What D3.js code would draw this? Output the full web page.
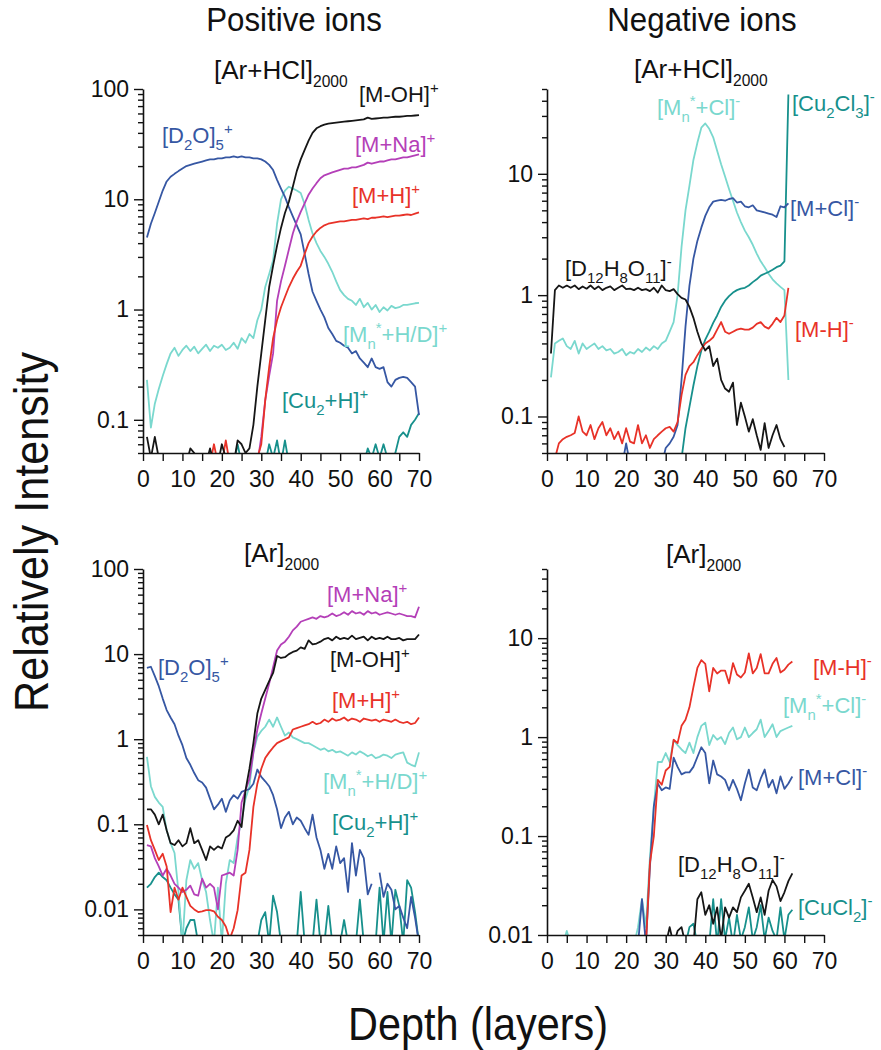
<!DOCTYPE html>
<html><head><meta charset="utf-8">
<script src="https://cdn.jsdelivr.net/npm/d3@7"></script>
<style>
body{margin:0;background:#fff;}
text{font-family:"Liberation Sans",Arial,Helvetica,sans-serif;}
</style></head><body>
<svg id="c" width="881" height="1050"></svg>
<script>
// ---------------- DATA ----------------
const depthTL = d3.range(1, 71);
const depthTR = d3.range(1, 62);
const depthBL = d3.range(1, 71);
const depthBR = d3.range(1, 63);
const xTickValues = [0, 5, 10, 15, 20, 25, 30, 35, 40, 45, 50, 55, 60, 65, 70];

// Top-left: [Ar+HCl]2000, positive ions
const tlD2O = [4.5,6.0,7.5,9.5,12,14.5,16,17,18,19, 20,20.5,21,21.5,22,22.5,23,23,23.5,23.5, 24,24,24.5,24,24.5,24,24,23.5,23.5,23, 22,20.5,18.4,15,12.5,10.5,8.5,7,5.8,4.8, 3.2,2.1,1.45,1.2,1.0,0.85,0.68,0.6,0.52,0.5, 0.47,0.45,0.4,0.42,0.36,0.33,0.3,0.36,0.3,0.29, 0.3,0.22,0.2,0.23,0.24,0.245,0.24,0.22,0.2,0.11];
const tlMOH = [0.07,0.045,0.07,0.045,0.04,0.04,0.04,0.04,0.04,0.04, 0.04,0.055,0.05,0.04,0.04,0.04,0.055,0.04,0.04,0.06, 0.045,0.04,0.04,0.065,0.06,0.05,0.055,0.09,0.2,0.4, 0.8,1.6,2.5,3.8,5.5,7.5,9.5,13,18,23, 28,34,40,44,46,47.5,48.5,49,49.5,50, 50.5,51,51.5,52,52.5,53,55,53.5,54,54.5, 55,55,55.5,56,56,56.5,57,57,57.5,58];
const tlMNa = [0.04,0.04,0.04,0.04,0.04,0.04,0.04,0.04,0.04,0.04, 0.04,0.04,0.04,0.04,0.04,0.04,0.04,0.04,0.04,0.04, 0.04,0.04,0.04,0.04,0.04,0.04,0.04,0.04,0.04,0.07, 0.15,0.25,0.4,1.2,1.8,2.5,3.5,4.9,6.3,7.7, 9.2,11,12.5,14,15.5,16.5,17,17.5,18,18.5, 19,19,19.5,19.5,20,20.5,21.5,21,21.5,22, 22,22.5,23,23,23.5,24,24,24.5,25,25.5];
const tlMH = [0.04,0.04,0.04,0.04,0.04,0.04,0.04,0.04,0.04,0.04, 0.04,0.04,0.04,0.04,0.04,0.04,0.04,0.06,0.04,0.04, 0.065,0.04,0.04,0.04,0.04,0.04,0.04,0.04,0.045,0.06, 0.15,0.3,0.55,0.8,1.05,1.3,1.6,1.9,2.2,2.5, 3.2,4.0,4.6,5.1,5.5,5.8,6.0,6.1,6.2,6.3, 6.3,6.4,6.5,6.5,6.6,6.7,6.6,6.8,6.8,6.9, 7.0,6.9,7.0,7.1,7.1,7.2,7.3,7.2,7.4,7.6];
const tlMn = [0.23,0.085,0.14,0.19,0.25,0.32,0.4,0.45,0.38,0.43, 0.47,0.42,0.46,0.4,0.44,0.48,0.42,0.47,0.45,0.48, 0.43,0.45,0.5,0.44,0.55,0.5,0.6,0.55,0.8,1.0, 1.6,2.1,2.8,6,10,12,13,12.5,12,11.4, 9,6.5,4.9,4,3.4,3.0,2.6,2.2,1.8,1.5, 1.35,1.25,1.2,1.1,1.25,1.05,1.15,1.0,1.1,0.95, 1.05,0.98,1.08,1.03,1.05,1.1,1.1,1.12,1.14,1.15];
const tlCu = [0.04,0.04,0.04,0.04,0.04,0.04,0.04,0.04,0.04,0.04, 0.04,0.04,0.04,0.04,0.04,0.04,0.04,0.04,0.04,0.04, 0.04,0.04,0.04,0.06,0.04,0.04,0.04,0.04,0.04,0.04, 0.04,0.06,0.045,0.065,0.04,0.065,0.04,0.04,0.04,0.04, 0.04,0.04,0.04,0.04,0.04,0.04,0.04,0.04,0.04,0.04, 0.04,0.04,0.04,0.04,0.04,0.04,0.055,0.045,0.06,0.045, 0.06,0.045,0.045,0.05,0.07,0.077,0.07,0.09,0.1,0.115];

// Top-right: [Ar+HCl]2000, negative ions
const trD12 = [0.33,1.1,1.2,1.15,1.2,1.15,1.2,1.12,1.18,1.13, 1.2,1.12,1.18,1.1,1.15,1.18,1.1,1.15,1.2,1.12, 1.13,1.1,1.15,1.1,1.12,1.08,1.15,1.05,1.2,1.1, 1.08,1.12,1.02,0.95,0.92,0.8,0.65,0.5,0.4,0.35, 0.38,0.26,0.3,0.2,0.17,0.16,0.19,0.085,0.13,0.1, 0.075,0.095,0.07,0.053,0.088,0.055,0.07,0.085,0.065,0.056, null];
const trMn = [0.21,0.4,0.42,0.44,0.38,0.36,0.42,0.33,0.4,0.36, 0.38,0.4,0.36,0.38,0.35,0.36,0.33,0.34,0.36,0.32, 0.34,0.33,0.36,0.34,0.37,0.35,0.38,0.36,0.4,0.42, 0.5,0.6,1.0,2.5,5,8,13,18,24,26, 23.5,20,15.5,12,9.5,7.5,6,4.8,4,3.4, 3.0,2.6,2.2,1.9,1.7,1.5,1.35,1.25,1.17,1.1, 0.2];
const trMCl = [0.04,0.04,0.04,0.04,0.04,0.04,0.04,0.04,0.04,0.04, 0.04,0.04,0.04,0.04,0.04,0.04,0.04,0.04,0.04,0.06, 0.04,0.04,0.04,0.04,0.04,0.04,0.04,0.04,0.04,0.055, 0.06,0.068,0.085,0.2,0.55,1.2,2.0,2.8,3.6,4.5, 5.3,5.9,6.0,6.1,6.0,6.2,6.3,5.8,5.9,5.4, 5.3,5.5,5.0,4.9,4.8,4.7,4.6,4.4,5.4,5.3, 5.7];
const trCu = [0.04,0.04,0.04,0.04,0.04,0.04,0.04,0.04,0.04,0.04, 0.04,0.04,0.04,0.04,0.04,0.04,0.04,0.04,0.04,0.04, 0.04,0.04,0.04,0.04,0.04,0.04,0.04,0.04,0.04,0.04, 0.04,0.04,0.04,0.045,0.08,0.12,0.18,0.26,0.35,0.43, 0.5,0.59,0.68,0.8,0.9,0.98,1.05,1.1,1.13,1.15, 1.2,1.28,1.35,1.45,1.5,1.55,1.62,1.7,1.75,1.9, 45];
const trMH = [0.04,0.045,0.06,0.065,0.068,0.07,0.073,0.1,0.075,0.07, 0.085,0.065,0.08,0.09,0.07,0.08,0.065,0.075,0.06,0.08, 0.062,0.06,0.085,0.06,0.07,0.055,0.065,0.07,0.075,0.08, 0.082,0.075,0.09,0.15,0.22,0.26,0.28,0.32,0.36,0.4, 0.42,0.45,0.52,0.6,0.5,0.48,0.5,0.52,0.53,0.52, 0.52,0.54,0.58,0.6,0.55,0.53,0.58,0.65,0.6,0.68, 1.15];

// Bottom-left: [Ar]2000, positive ions
const blD2O = [6.9,7.1,5.5,4.2,3.0,2.2,1.8,1.5,1.1,0.85, 0.6,0.5,0.4,0.33,0.31,0.27,0.2,0.15,0.17,0.2, 0.14,0.19,0.22,0.2,0.24,0.25,0.26,0.3,0.44,0.36, 0.32,0.28,0.22,0.15,0.09,0.12,0.14,0.1,0.12,0.11, 0.09,0.075,0.13,0.07,0.05,0.03,0.045,0.03,0.055,0.035, 0.04,0.016,0.06,0.025,0.05,0.04,0.015,0.02,null,0.027, 0.014,0.02,0.017,0.01,0.011,0.008,0.006,0.014,0.008,0.004];
const blMOH = [0.15,0.15,0.13,0.1,0.13,0.085,0.06,0.057,0.065,0.055, 0.06,0.09,0.06,0.065,0.05,0.038,0.055,0.05,0.055,0.052, 0.07,0.075,0.085,0.11,0.093,0.25,0.45,0.9,2.0,3.0, 3.8,4.8,6,9.5,9,9.2,10,10.6,11,12, 11.5,14.5,13,13.3,14,15,15.5,14.5,16,15, 15.5,15,16.5,15,15.5,16,14.5,16,15,15.5, 15,16,15,15,15.5,14.5,15,15,15,17];
const blMNa = [0.057,0.055,0.04,0.032,0.025,0.03,0.025,0.02,0.018,0.016, 0.017,0.019,0.015,0.0145,0.023,0.018,0.02,0.018,0.01,0.025, 0.026,0.027,0.025,0.05,0.18,0.25,0.34,0.7,1.3,2.0, 3.0,4.5,7,11,13,14,16,19,21,24, 25,26,27,26,28,27,28,30,28,29, 31,29,32,30,31,29,32,30,31,29, 30,31,30,29,30,29,28,28,27,36];
const blMH = [0.098,0.065,0.05,0.038,0.045,0.032,0.0093,0.018,0.013,0.018, 0.014,0.011,0.01,0.0093,0.0095,0.0098,0.0098,0.0095,0.0082,0.0075, 0.0063,0.0045,0.006,0.0098,0.025,0.027,0.05,0.16,0.3,0.45, 0.6,0.7,0.8,0.9,0.95,1.0,1.05,1.3,1.35,1.4, 1.45,1.5,1.6,1.5,1.55,1.7,1.6,1.75,1.65,1.7, 1.8,1.65,1.75,1.7,1.6,1.75,1.7,1.65,1.7,1.6, 1.7,1.65,1.6,1.7,1.6,1.55,1.6,1.5,1.55,1.8];
const blMn = [0.62,0.28,0.21,0.18,0.16,0.085,0.06,0.046,0.016,0.004, 0.022,0.038,0.03,0.035,0.022,0.016,0.0075,0.004,0.018,0.004, 0.02,0.038,0.035,0.07,0.11,0.2,0.28,0.7,1.07,1.25, 1.4,1.7,1.4,1.8,1.4,1.1,1.2,1.05,1.0,0.95, 0.9,0.9,0.85,0.8,0.75,0.78,0.72,0.75,0.7,0.72, 0.68,0.64,0.7,0.66,0.72,0.68,0.63,0.66,0.6,0.62, 0.66,0.64,0.6,0.66,0.68,0.7,0.53,0.5,0.48,0.7];
const blCu = [0.018,0.02,0.024,0.027,0.024,0.022,0.018,0.015,0.013,0.004, 0.006,0.0075,0.0075,0.004,0.004,0.004,0.004,0.004,0.004,0.004, 0.004,0.004,0.004,0.004,0.004,0.004,0.004,0.004,0.004,0.0075, 0.0093,0.004,0.0145,0.0093,0.004,0.004,0.004,0.004,0.004,0.016, 0.004,0.004,0.004,0.013,0.004,0.004,0.011,0.004,0.004,0.004, 0.0075,0.004,0.004,0.004,0.013,0.004,0.004,0.004,0.004,0.018, 0.004,0.016,0.004,0.017,0.011,0.004,0.022,0.018,0.0093,0.004];

// Bottom-right: [Ar]2000, negative ions
const brMH = [0.008,0.008,0.008,0.008,0.008,0.008,0.008,0.008,0.008,0.008, 0.008,0.008,0.008,0.008,0.008,0.008,0.008,0.008,0.008,0.008, 0.008,0.008,0.008,0.008,0.008,0.053,0.1,0.37,0.33,0.46, 0.5,0.94,0.87,1.3,1.5,2.0,3.2,5.0,6.0,5.5, 2.9,5.0,4.4,4.7,4.7,3.5,5.6,4.3,4.0,4.5, 7.0,4.4,5.0,6.9,4.4,4.4,5.5,6.3,4.5,4.8, 5.4,5.8];
const brMn = [0.008,0.008,0.008,0.008,0.011,0.008,0.008,0.008,0.008,0.008, 0.008,0.008,0.008,0.008,0.008,0.008,0.008,0.008,0.008,0.008, 0.008,0.008,0.012,0.023,0.012,0.06,0.2,0.56,0.56,0.69, 0.56,0.93,0.83,0.75,0.69,0.88,0.69,1.0,1.3,1.4, 0.83,1.05,0.94,1.0,0.85,1.1,1.25,0.95,1.0,1.25, 1.0,1.1,1.2,1.5,1.0,1.15,1.35,1.0,1.15,1.2, 1.25,1.3];
const brMCl = [0.008,0.008,0.008,0.008,0.008,0.008,0.008,0.008,0.008,0.008, 0.008,0.008,0.008,0.008,0.008,0.008,0.008,0.008,0.008,0.008, 0.008,0.008,0.008,0.023,0.008,0.048,0.2,0.34,0.29,0.31, 0.3,0.62,0.5,0.42,0.44,0.44,0.5,0.63,0.79,0.69, 0.34,0.58,0.42,0.4,0.37,0.29,0.37,0.3,0.23,0.34, 0.47,0.31,0.29,0.38,0.47,0.31,0.37,0.27,0.4,0.3, 0.34,0.4];
const brD12 = [0.008,0.008,0.008,0.008,0.008,0.008,0.008,0.008,0.008,0.008, 0.008,0.008,0.008,0.008,0.008,0.008,0.008,0.008,0.008,0.008, 0.008,0.008,0.008,0.008,0.008,0.008,0.008,0.008,0.008,0.008, 0.012,0.008,0.011,0.012,0.008,0.008,0.008,0.023,0.027,0.016, 0.02,0.013,0.019,0.009,0.019,0.015,0.019,0.017,0.024,0.028, 0.033,0.024,0.017,0.024,0.016,0.028,0.036,0.031,0.022,0.027, 0.035,0.042];
const brCu = [0.008,0.008,0.008,0.008,0.008,0.008,0.008,0.008,0.008,0.008, 0.008,0.008,0.008,0.008,0.008,0.008,0.008,0.008,0.008,0.008, 0.008,0.008,0.008,0.008,0.008,0.008,0.008,0.008,0.008,0.008, 0.008,0.008,0.008,0.008,0.008,0.012,0.013,0.008,0.008,0.008, 0.008,0.023,0.008,0.023,0.009,0.015,0.008,0.016,0.009,0.012, 0.019,0.009,0.012,0.02,0.009,0.015,0.011,0.009,0.019,0.009, 0.016,0.018];

// Labels (markup: _{sub} ^{sup})
const panelTitles = ["[Ar+HCl]_{2000}", "[Ar+HCl]_{2000}", "[Ar]_{2000}", "[Ar]_{2000}"];
const columnTitles = ["Positive ions", "Negative ions"];
const yTitle = "Relatively Intensity";
const xTitle = "Depth (layers)";

// ---------------- STYLE / LAYOUT ----------------
const C = {black:"#161616", blue:"#3657a3", magenta:"#b43fb8", red:"#e83228", turq:"#7ad8ce", teal:"#17908c"};
const panels = [
  {x0:143,x1:419,y0:89,y1:453, ymin:0.05,ymax:100, major:[0.1,1,10,100], depth:depthTL, title:panelTitles[0], tx:214, ty:79,
   series:[[tlMn,C.turq],[tlCu,C.teal],[tlD2O,C.blue],[tlMNa,C.magenta],[tlMH,C.red],[tlMOH,C.black]],
   labels:[["[M-OH]^{+}",359,102,C.black],["[D_{2}O]_{5}^{+}",162,143,C.blue],["[M+Na]^{+}",355,152,C.magenta],["[M+H]^{+}",352,203,C.red],["[M_{n}^{*}+H/D]^{+}",343,342,C.turq],["[Cu_{2}+H]^{+}",282,408,C.teal]]},
  {x0:547,x1:824,y0:89,y1:453, ymin:0.05,ymax:50, major:[0.1,1,10], depth:depthTR, title:panelTitles[1], tx:634, ty:78,
   series:[[trMn,C.turq],[trCu,C.teal],[trMCl,C.blue],[trMH,C.red],[trD12,C.black]],
   labels:[["[M_{n}^{*}+Cl]^{-}",657,115,C.turq],["[Cu_{2}Cl_{3}]^{-}",792,111,C.teal],["[M+Cl]^{-}",790,216,C.blue],["[D_{12}H_{8}O_{11}]^{-}",565,276,C.black],["[M-H]^{-}",795,337,C.red]]},
  {x0:143,x1:419,y0:569,y1:935, ymin:0.005,ymax:100, major:[0.01,0.1,1,10,100], depth:depthBL, title:panelTitles[2], tx:244, ty:562,
   series:[[blCu,C.teal],[blMn,C.turq],[blD2O,C.blue],[blMNa,C.magenta],[blMH,C.red],[blMOH,C.black]],
   labels:[["[M+Na]^{+}",327,602,C.magenta],["[D_{2}O]_{5}^{+}",158,675,C.blue],["[M-OH]^{+}",330,667,C.black],["[M+H]^{+}",332,708,C.red],["[M_{n}^{*}+H/D]^{+}",323,789,C.turq],["[Cu_{2}+H]^{+}",332,830,C.teal]]},
  {x0:547,x1:824,y0:569,y1:935, ymin:0.01,ymax:50, major:[0.01,0.1,1,10], depth:depthBR, title:panelTitles[3], tx:666, ty:563,
   series:[[brCu,C.teal],[brD12,C.black],[brMn,C.turq],[brMCl,C.blue],[brMH,C.red]],
   labels:[["[M-H]^{-}",813,675,C.red],["[M_{n}^{*}+Cl]^{-}",783,713,C.turq],["[M+Cl]^{-}",798,785,C.blue],["[D_{12}H_{8}O_{11}]^{-}",678,872,C.black],["[CuCl_{2}]^{-}",798,915,C.teal]]}
];

const svg = d3.select("#c");

function rich(g, str, x, y, size, color, subRatio) {
  const r = subRatio || 0.68;
  const t = g.append("text").attr("x", x).attr("y", y).attr("font-size", size)
    .attr("fill", color).attr("text-anchor", "start");
  const parts = str.split(/(_\{[^}]*\}|\^\{[^}]*\})/).filter(s => s.length);
  let cur = 0;
  parts.forEach(p => {
    let shift = 0, fs = size, txt = p;
    if (p.startsWith("_{")) { shift = 0.3 * size; fs = r * size; txt = p.slice(2, -1); }
    else if (p.startsWith("^{")) { shift = -0.42 * size; fs = r * size; txt = p.slice(2, -1); }
    t.append("tspan").attr("dy", shift - cur).attr("font-size", fs).text(txt);
    cur = shift;
  });
  return t;
}

// horizontally condensed text (reference typeface is narrow)
function condText(x, y, size, sx, str, anchor, extra) {
  return svg.append("text")
    .attr("transform", `translate(${x},${y})${extra || ""} scale(${sx},1)`)
    .attr("text-anchor", anchor).attr("font-size", size).attr("fill", "#111").text(str);
}

panels.forEach((P, i) => {
  const g = svg.append("g");
  const x = d3.scaleLinear().domain([0, 70]).range([P.x0, P.x1]);
  const y = d3.scaleLog().domain([P.ymin, P.ymax]).range([P.y1, P.y0]);

  const clipId = "clip" + i;
  svg.append("clipPath").attr("id", clipId).append("rect")
    .attr("x", P.x0).attr("y", P.y0 - 2).attr("width", P.x1 - P.x0 + 4).attr("height", P.y1 - P.y0 + 2);

  const line = d3.line().defined(d => d[1] != null)
    .x(d => x(d[0])).y(d => y(d[1]));
  const lg = g.append("g").attr("clip-path", `url(#${clipId})`);
  P.series.forEach(([vals, col]) => {
    const pts = P.depth.map((d, k) => [d, vals[k] === undefined ? null : vals[k]]);
    lg.append("path").attr("d", line(pts)).attr("fill", "none").attr("stroke", col)
      .attr("stroke-width", 1.8).attr("stroke-linejoin", "round");
  });

  // y ticks: all log minor ticks, labels on decades
  const yt = [];
  for (let e = Math.floor(Math.log10(P.ymin)) - 1; e <= Math.ceil(Math.log10(P.ymax)); e++) {
    for (let k = 1; k <= 9; k++) {
      const v = +(k * Math.pow(10, e)).toPrecision(6);
      if (v >= P.ymin * 0.999 && v <= P.ymax * 1.001) yt.push(v);
    }
  }
  const isMajor = v => P.major.some(m => Math.abs(m - v) / m < 1e-6);
  const yAxis = d3.axisLeft(y).tickValues(yt).tickSizeOuter(0).tickPadding(5)
    .tickFormat(v => isMajor(v) ? String(v) : "");
  const ya = g.append("g").attr("transform", `translate(${P.x0},0)`).call(yAxis);
  ya.selectAll(".tick line").attr("x2", v => isMajor(v) ? -9 : -5);
  ya.selectAll(".tick text").attr("x", -14);

  const xAxis = d3.axisBottom(x).tickValues(xTickValues).tickSizeInner(8).tickSizeOuter(0).tickPadding(10)
    .tickFormat(v => v % 10 === 0 ? String(v) : "");
  const xa = g.append("g").attr("transform", `translate(0,${P.y1})`).call(xAxis);

  [ya, xa].forEach(a => {
    a.select(".domain").attr("stroke", "#111").attr("stroke-width", 1.6);
    a.selectAll(".tick line").attr("stroke", "#111").attr("stroke-width", 1.4);
    a.selectAll(".tick text").attr("font-size", 23).attr("fill", "#111")
      .attr("font-family", '"Liberation Sans", Arial, sans-serif');
  });

  rich(g, P.title, P.tx, P.ty, 26, "#111", 0.6);
  P.labels.forEach(([s, lx, ly, col]) => rich(g, s, lx, ly, 22, col));
});

condText(294, 31, 34, 0.92, columnTitles[0], "middle");
condText(702, 31, 34, 0.92, columnTitles[1], "middle");
condText(48, 532, 48, 0.9, yTitle, "middle", " rotate(-90)");
condText(478, 1040, 46, 0.9, xTitle, "middle");
</script>
</body></html>
